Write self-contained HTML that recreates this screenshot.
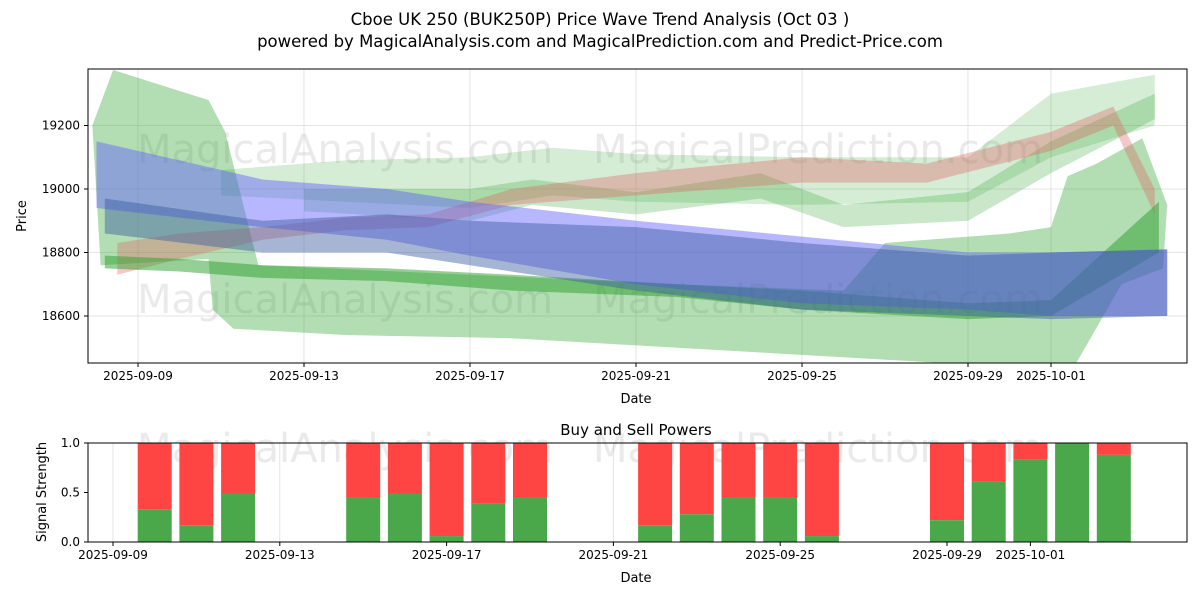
<!DOCTYPE html>
<html><head><meta charset="utf-8">
<style>
body{margin:0;background:#fff;font-family:"DejaVu Sans","Liberation Sans",sans-serif;}
svg text{font-family:"DejaVu Sans","Liberation Sans",sans-serif;}
</style></head>
<body>
<svg id="chart" width="1200" height="600" xmlns="http://www.w3.org/2000/svg">
<text x="600" y="25" font-size="16.5" text-anchor="middle">Cboe UK 250 (BUK250P) Price Wave Trend Analysis (Oct 03 )</text>
<text x="600" y="47" font-size="16.5" text-anchor="middle">powered by MagicalAnalysis.com and MagicalPrediction.com and Predict-Price.com</text>
<g id="topPanel"></g>
<g id="botPanel"></g>
</svg>
<script>
// ---- data ----
const dateLabels=["2025-09-09","2025-09-13","2025-09-17","2025-09-21","2025-09-25","2025-09-29","2025-10-01"];
const dateDays=[0,4,8,12,16,20,22];
const priceTicks=[18600,18800,19000,19200];
const blueLightDays=[-1,3,6,8,12,16,20,22,24.8];
const blueLightHi=[19150,19030,19000,18960,18900,18850,18800,18800,18810];
const blueLightLo=[18940,18880,18840,18790,18700,18640,18620,18600,18600];
const blueDarkDays=[-0.8,3,6,8,12,16,20,22,24.8];
const blueDarkHi=[18970,18900,18920,18900,18880,18830,18790,18800,18810];
const blueDarkLo=[18860,18800,18800,18760,18680,18620,18600,18590,18600];
const greenDarkDays=[-0.8,1,3,6,9,13,16,20,22,24.6];
const greenDarkHi=[18790,18780,18760,18750,18730,18700,18680,18640,18650,18960];
const greenDarkLo=[18750,18740,18720,18710,18680,18660,18620,18590,18600,18800];
const bigGreenDays=[-1.1,-0.6,1.7,2.1,2.9,8,13,17,18,21,22,22.4,23.1,24.2,24.8,24.7,23.7,22.6,21,17,13,9,5,2.3,1.8,1.7,-0.9];
const bigGreenPrices=[19200,19375,19280,19180,18760,18730,18700,18680,18830,18860,18880,19040,19080,19160,18950,18750,18700,18450,18440,18470,18500,18530,18540,18560,18620,18780,18760];
const redDays=[-0.5,1,3,5,7,9,12,16,19,22,23.5,24.5];
const redHi=[18830,18860,18880,18910,18920,19000,19050,19100,19080,19180,19260,19000];
const redLo=[18730,18780,18840,18870,18880,18950,18980,19020,19020,19120,19200,18920];
const lightGreenDays=[2,5,8,10,12,16,20,22,24.5];
const lightGreenHi=[19060,19090,19100,19130,19110,19100,19100,19300,19360];
const lightGreenLo=[18980,18960,18940,18980,18960,18950,18960,19100,19200];
const midGreenDays=[4,8,9.5,12,15,17,20,22,24.5];
const midGreenHi=[19000,19000,19030,18990,19050,18950,18990,19150,19300];
const midGreenLo=[18930,18900,18950,18920,18970,18880,18900,19050,19220];
const barDays=[1,2,3,6,7,8,9,10,13,14,15,16,17,20,21,22,23,24];
const buyValues=[0.33,0.17,0.49,0.45,0.49,0.06,0.39,0.45,0.17,0.28,0.45,0.45,0.06,0.22,0.61,0.83,1.0,0.88];
const sigTicks=[0,0.5,1.0];

const NS="http://www.w3.org/2000/svg";
const X=d=>138+d*41.5;
const XB=d=>113+d*41.7;
const Y=v=>189-(v-19000)*0.3175;
const YB=v=>542-v*99;
function mk(p,tag,a){const e=document.createElementNS(NS,tag);for(const k in a)e.setAttribute(k,a[k]);p.appendChild(e);return e;}
const topG=document.getElementById('topPanel'),botG=document.getElementById('botPanel');
const cp=mk(topG,'clipPath',{id:'cp'});mk(cp,'rect',{x:88,y:69,width:1099,height:294});
priceTicks.forEach(v=>{const l=mk(topG,'line',{x1:88,x2:1187,y1:Y(v),y2:Y(v),stroke:'#ddd','stroke-width':0.8});


const t=mk(topG,'text',{x:80,y:Y(v)+4,'font-size':12,'text-anchor':'end'});t.textContent=v;

});
dateDays.forEach((d,i)=>{[[69,363,topG,X],[443,542,botG,XB]].forEach(([a,b,g,fx])=>{const l=mk(g,'line',{x1:fx(d),x2:fx(d),y1:a,y2:b,stroke:'#ddd','stroke-width':0.8});


mk(g,'line',{x1:fx(d),x2:fx(d),y1:b,y2:b+4,stroke:'#000'});
const t=mk(g,'text',{x:fx(d),y:b+17,'font-size':12,'text-anchor':'middle'});t.textContent=dateLabels[i];

});});
const wm=[[345,163,'MagicalAnalysis.com'],[818,163,'MagicalPrediction.com'],[345,313,'MagicalAnalysis.com'],[818,313,'MagicalPrediction.com'],[345,462,'MagicalAnalysis.com'],[818,462,'MagicalPrediction.com']];
wm.forEach(w=>{const t=mk(w[1]>400?botG:topG,'text',{x:w[0],y:w[1],'font-size':40,'text-anchor':'middle',fill:'#bbb','fill-opacity':0.3});t.textContent=w[2];

});
const bandG=mk(topG,'g',{'clip-path':'url(#cp)'});
function band(days,hi,lo,fill,op,name){let pts=days.map((d,i)=>X(d)+','+Y(hi[i]));for(let i=days.length-1;i>=0;i--)pts.push(X(days[i])+','+Y(lo[i]));
const p=mk(bandG,'polygon',{points:pts.join(' '),fill:fill,'fill-opacity':op});

}
const bg=mk(bandG,'polygon',{points:bigGreenDays.map((d,i)=>X(d)+','+Y(bigGreenPrices[i])).join(' '),fill:'#2ca02c','fill-opacity':0.36});


band(lightGreenDays,lightGreenHi,lightGreenLo,'#2ca02c',0.2,'light-green-wave');
band(midGreenDays,midGreenHi,midGreenLo,'#2ca02c',0.25,'mid-green-wave');
band(redDays,redHi,redLo,'#e06060',0.35,'red-wave');
band(greenDarkDays,greenDarkHi,greenDarkLo,'#2ca02c',0.5,'dark-green-wave');
band(blueLightDays,blueLightHi,blueLightLo,'#6060ff',0.45,'blue-light-wave');
band(blueDarkDays,blueDarkHi,blueDarkLo,'#3a5aa0',0.45,'blue-dark-wave');
mk(topG,'rect',{x:88,y:69,width:1099,height:294,fill:'none',stroke:'#000','stroke-width':1});
priceTicks.forEach(v=>mk(topG,'line',{x1:84,x2:88,y1:Y(v),y2:Y(v),stroke:'#000'}));
let t=mk(topG,'text',{x:636,y:403,'font-size':13,'text-anchor':'middle'});t.textContent='Date';

t=mk(topG,'text',{x:26,y:216,'font-size':13,'text-anchor':'middle',transform:'rotate(-90 26 216)'});t.textContent='Price';

t=mk(botG,'text',{x:636,y:435,'font-size':15,'text-anchor':'middle'});t.textContent='Buy and Sell Powers';

barDays.forEach((d,i)=>{const x=XB(d)-17;
const r=mk(botG,'rect',{x:x,y:YB(1),width:34,height:YB(buyValues[i])-YB(1),fill:'#ff4444'});


const g=mk(botG,'rect',{x:x,y:YB(buyValues[i]),width:34,height:542-YB(buyValues[i]),fill:'#4aa84a'});

});
sigTicks.forEach(v=>{mk(botG,'line',{x1:84,x2:88,y1:YB(v),y2:YB(v),stroke:'#000'});
const t=mk(botG,'text',{x:80,y:YB(v)+4,'font-size':12,'text-anchor':'end'});t.textContent=v.toFixed(1);

});
mk(botG,'rect',{x:88,y:443,width:1099,height:99,fill:'none',stroke:'#000','stroke-width':1});
t=mk(botG,'text',{x:636,y:582,'font-size':13,'text-anchor':'middle'});t.textContent='Date';

t=mk(botG,'text',{x:46,y:492,'font-size':13,'text-anchor':'middle',transform:'rotate(-90 46 492)'});t.textContent='Signal Strength';

</script>
</body></html>
